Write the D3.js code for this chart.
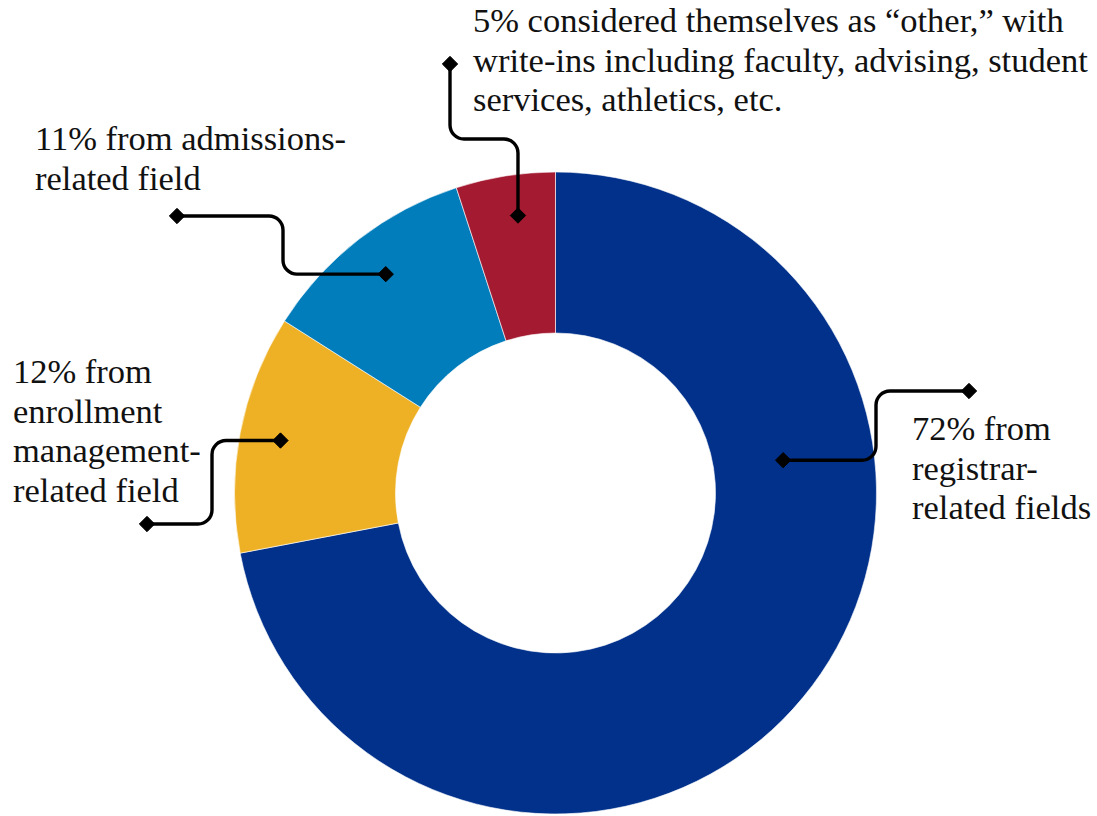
<!DOCTYPE html>
<html>
<head>
<meta charset="utf-8">
<script src="https://cdn.jsdelivr.net/npm/d3@7"></script>
<style>
  html, body { margin: 0; padding: 0; background: #fff; }
  svg { display: block; }
  .label { font-family: "Liberation Serif", "Times New Roman", serif; font-size: 34.5px; fill: #111; }
</style>
</head>
<body>
<svg id="chart" width="1097" height="816"></svg>
<script>
// Survey respondents by field of work (percent)
const categories = ["registrar", "enrollment", "admissions", "other"];
const shares = [72, 12, 11, 5];
const colors = ["#01318A", "#EEB125", "#017DBB", "#A41A31"];
const labelLines = [
  ["72% from", "registrar-", "related fields"],
  ["12% from", "enrollment", "management-", "related field"],
  ["11% from admissions-", "related field"],
  ["5% considered themselves as \u201Cother,\u201D with", "write-ins including faculty, advising, student", "services, athletics, etc."]
];

const svg = d3.select("#chart");
const cx = 555.5, cy = 493;
const outerR = 321, innerR = 160;

const pie = d3.pie().sort(null).value(d => d)(shares);
const arc = d3.arc().innerRadius(innerR).outerRadius(outerR);

const g = svg.append("g").attr("transform", `translate(${cx},${cy})`);
g.selectAll("path.slice")
  .data(pie)
  .join("path")
  .attr("class", "slice")
  .attr("d", arc)
  .attr("fill", (d, i) => colors[i])
  .attr("stroke", "#fff")
  .attr("stroke-width", 0.6);

// Callout layout: where the leader starts on the ring, its route, and the label block
const callouts = [
  { angle: 81.8, radius: 230, route: "h", bend: 876, elbowY: 391, endX: 969,
    text: { x: 912, y: 440 } },
  { radius: 280, route: "h", bend: 212, elbowY: 524, endX: 147,
    text: { x: 13, y: 383 } },
  { radius: 277, route: "h", bend: 283, elbowY: 216, endX: 177,
    text: { x: 35, y: 150 } },
  { angle: 352.3, radius: 280, route: "v", bendY: 139, elbowX: 450, endY: 64,
    text: { x: 473, y: 32 } }
];

function polar(angleDeg, r) {
  const a = angleDeg * Math.PI / 180;
  return [cx + r * Math.sin(a), cy - r * Math.cos(a)];
}

function roundedPath(pts, rad) {
  const p = d3.path();
  p.moveTo(pts[0][0], pts[0][1]);
  for (let i = 1; i < pts.length - 1; i++) {
    p.arcTo(pts[i][0], pts[i][1], pts[i + 1][0], pts[i + 1][1], rad);
  }
  const last = pts[pts.length - 1];
  p.lineTo(last[0], last[1]);
  return p.toString();
}

const leaders = svg.append("g");
const lineHeight = 39.5;

pie.forEach((d, i) => {
  const c = callouts[i];
  const mid = (d.startAngle + d.endAngle) / 2 * 180 / Math.PI;
  const start = polar(c.angle != null ? c.angle : mid, c.radius);
  let pts;
  if (c.route === "h") {
    pts = [start, [c.bend, start[1]], [c.bend, c.elbowY], [c.endX, c.elbowY]];
  } else {
    pts = [start, [start[0], c.bendY], [c.elbowX, c.bendY], [c.elbowX, c.endY]];
  }
  leaders.append("path")
    .attr("d", roundedPath(pts, 14))
    .attr("fill", "none")
    .attr("stroke", "#000")
    .attr("stroke-width", 3.4)
    .attr("stroke-linejoin", "round");
  [pts[0], pts[pts.length - 1]].forEach(p => {
    leaders.append("path")
      .attr("d", d3.symbol(d3.symbolDiamond2, 150)())
      .attr("transform", `translate(${p[0]},${p[1]})`)
      .attr("fill", "#000")
      .attr("stroke", "#000")
      .attr("stroke-width", 1)
      .attr("stroke-linejoin", "round");
  });

  const t = svg.append("text")
    .attr("class", "label")
    .attr("x", c.text.x)
    .attr("y", c.text.y);
  labelLines[i].forEach((line, j) => {
    t.append("tspan")
      .attr("x", c.text.x)
      .attr("y", c.text.y + j * lineHeight)
      .text(line);
  });
});
</script>
</body>
</html>
